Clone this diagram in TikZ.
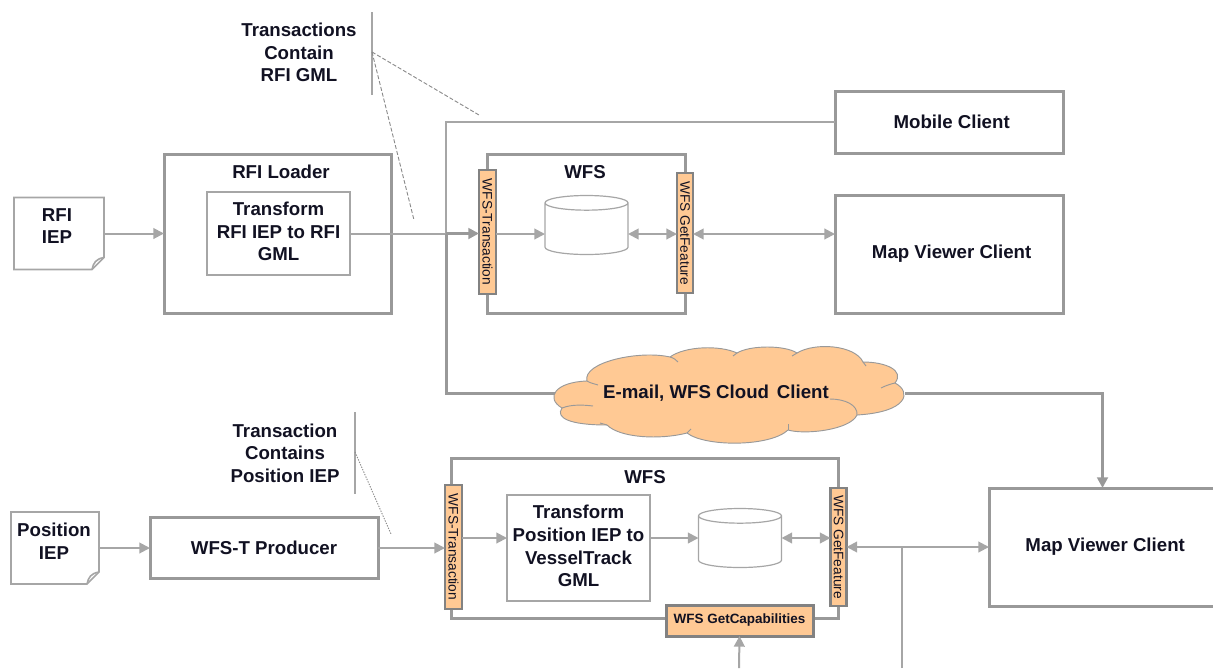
\documentclass[tikz,border=0pt]{standalone}
\usepackage{fontspec}
\setmainfont{Liberation Sans}
\usetikzlibrary{arrows.meta, positioning}
\definecolor{linegray}{HTML}{A6A6A6}
\definecolor{framegray}{HTML}{999999}
\definecolor{barorange}{HTML}{FFC994}
\definecolor{inkblack}{HTML}{111122}
\tikzset{
  >={Triangle[length=8pt,width=8pt]},
  plain/.style={align=center, text=inkblack, inner sep=0pt, outer sep=0pt,
    font=\fontsize{14}{16.9}\selectfont\bfseries},
  frame/.style={draw=framegray, line width=2.25pt, outer sep=0pt, plain},
  inbox/.style={draw=linegray, line width=1pt, outer sep=0pt, plain, text depth=3pt},
  bar/.style={draw=framegray!85!black, fill=barorange, line width=2pt, outer sep=0pt,
    rotate=-90, text=inkblack, inner sep=0pt, font=\fontsize{10.3}{12}\selectfont},
  capbar/.style={draw=framegray!85!black, fill=barorange, line width=2.25pt, outer sep=0pt,
    text=inkblack, inner sep=0pt, font=\fontsize{10.1}{12}\selectfont\bfseries},
  drumbody/.style={outer sep=0pt, inner sep=0pt, minimum width=62.25pt, minimum height=44.25pt},
  drumline/.style={draw=linegray, line width=.9pt, fill=white},
  notepaper/.style={outer sep=0pt, inner sep=0pt},
  noteline/.style={draw=linegray, line width=1.2pt},
  flow/.style={draw=linegray, line width=1.5pt},
  heavyflow/.style={draw=framegray, line width=2.25pt},
  tickline/.style={draw=linegray, line width=1.2pt},
  calldash/.style={draw=gray!90, line width=.7pt, dash pattern=on 3pt off 1.5pt},
  calldot/.style={draw=gray!90, line width=.7pt, dash pattern=on 1pt off 1pt},
  cloudline/.style={draw=gray!80, line width=.7pt},
}
\newcommand{\dogear}[1]{%
  \draw[noteline] (#1.north west) -- (#1.north east) -- ([yshift=9pt]#1.south east)
    -- ([xshift=-9pt]#1.south east) -- (#1.south west) -- cycle;
  \draw[noteline] ([xshift=-9pt]#1.south east) .. controls ([xshift=-8pt,yshift=5pt]#1.south east)
    and ([xshift=-6pt,yshift=8pt]#1.south east) .. ([yshift=9pt]#1.south east);
}
\newcommand{\drumdraw}[1]{%
  \draw[drumline] ([yshift=-5.5pt]#1.north west) -- ([yshift=5.5pt]#1.south west)
    arc[start angle=180, end angle=360, x radius=31.125pt, y radius=5.5pt]
    -- ([yshift=-5.5pt]#1.north east)
    arc[start angle=0, end angle=360, x radius=31.125pt, y radius=5.5pt];
}

\begin{document}
\begin{tikzpicture}[x=0.75pt, y=-0.75pt]
  \useasboundingbox (0,0) rectangle (1213,668);

  % START: Upper row ---------------------------------
  \node[notepaper, minimum width=67.5pt, minimum height=54pt] (rfiiep) at (59,233.5) {};
  \dogear{rfiiep}
  \node[plain] (rfiieptext) at (57,226) {RFI\\IEP};
  \node[frame, minimum width=170.25pt, minimum height=119.25pt, right=45pt of rfiiep] (loader) {};
  \node[plain] (loadertitle) at (281,172) {RFI Loader};
  \node[inbox, minimum width=107.25pt, minimum height=62.25pt] (xformrfi) at (278.5,233.5)
    {Transform\\RFI IEP to RFI\\GML};
  \node[frame, minimum width=148.5pt, minimum height=119.25pt, right=72pt of loader] (wfsup) {};
  \node[plain] (wfsuptitle) at (585,172) {WFS};
  \node[bar, minimum width=93pt, minimum height=12.75pt] (wtup) at (487.5,232) {WFS-Transaction};
  \node[bar, minimum width=90pt, minimum height=12pt] (gfup) at (685,233) {WFS GetFeature};
  \node[drumbody] (drumup) at (586.5,225) {};
  \drumdraw{drumup}
  \node[frame, minimum width=171pt, minimum height=88.5pt, right=112.5pt of wfsup, yshift=-15.375pt] (mapup)
    {\hspace*{4pt}Map Viewer Client};
  \node[frame, minimum width=171pt, minimum height=46.5pt, above=31.5pt of mapup] (mobile)
    {\hspace*{4pt}Mobile Client};
  \coordinate (upmid) at (520,234);
  % END: Upper row -----------------------------------

  % START: Callouts ----------------------------------
  \node[plain] (rfinote) at (299,52.5) {Transactions\\Contain\\RFI GML};
  \coordinate (rfitick) at (372,12);
  \coordinate (rfitickend) at (372,95);
  \coordinate (rfifoot) at (372,52);
  \coordinate (rfihitone) at (479,115);
  \coordinate (rfihittwo) at (414,220);
  \node[plain] (posnote) at (285,453) {Transaction\\Contains\\Position IEP};
  \coordinate (postick) at (355,412);
  \coordinate (postickend) at (355,494);
  \coordinate (posfoot) at (355,452);
  \coordinate (poshit) at (391,534);
  % END: Callouts ------------------------------------

  % START: Cloud -------------------------------------
  \draw[cloudline, fill=barorange] (562,408)
    .. controls (545,398) and (555,382) .. (587,381)
    .. controls (582,362) and (640,350) .. (670,357)
    .. controls (685,346) and (720,345) .. (737,353)
    .. controls (750,345) and (785,345) .. (797,353)
    .. controls (815,342) and (855,345) .. (863,362)
    .. controls (885,362) and (905,370) .. (895,383)
    .. controls (912,392) and (908,412) .. (857,415)
    .. controls (850,430) and (805,435) .. (788,430)
    .. controls (770,447) and (705,447) .. (687,433)
    .. controls (660,440) and (620,438) .. (607,425)
    .. controls (570,425) and (555,418) .. (562,408) -- cycle;
  \draw[cloudline] (562,408) .. controls (572,404) and (585,405) .. (593,406);
  \draw[cloudline] (587,381) .. controls (590,383) and (595,384) .. (598,385);
  \draw[cloudline] (670,357) .. controls (674,358) and (676,360) .. (678,362);
  \draw[cloudline] (737,353) -- (733,356);
  \draw[cloudline] (797,353) -- (792,356);
  \draw[cloudline] (863,362) -- (866,366);
  \draw[cloudline] (895,383) .. controls (890,384) and (885,386) .. (881,388);
  \draw[cloudline] (857,415) .. controls (858,405) and (845,399) .. (830,399);
  \draw[cloudline] (788,430) -- (788,424);
  \draw[cloudline] (687,433) -- (691,429);
  \draw[cloudline] (607,425) -- (600,423);
  \node[plain, minimum width=262.5pt, minimum height=70.5pt] (cloudmail) at (730,393)
    {E-mail, WFS Cloud\hspace{2pt} Client\hspace*{21pt}};
  % END: Cloud ---------------------------------------

  % START: Lower row ---------------------------------
  \node[notepaper, minimum width=66pt, minimum height=54pt] (posiep) at (55,548) {};
  \dogear{posiep}
  \node[plain] (posieptext) at (54,541) {Position\\IEP};
  \node[frame, minimum width=171pt, minimum height=45.75pt, right=38.25pt of posiep] (producer)
    {WFS-T Producer};
  \node[frame, minimum width=290.25pt, minimum height=120pt] (wfslow) at (644.5,538) {};
  \node[plain] (wfslowtitle) at (645,477) {WFS};
  \node[bar, minimum width=93pt, minimum height=12.75pt] (wtlow) at (453.5,547) {WFS-Transaction};
  \node[bar, minimum width=88.5pt, minimum height=12pt] (gflow) at (838.5,547) {WFS GetFeature};
  \node[inbox, minimum width=107.25pt, minimum height=79.5pt] (xformpos) at (578.5,548)
    {Transform\\Position IEP to\\VesselTrack\\GML};
  \node[drumbody] (drumlow) at (740,538) {};
  \drumdraw{drumlow}
  \node[capbar, minimum width=110.25pt, minimum height=23.25pt] (caps) at (739.5,620.5) {WFS GetCapabilities};
  \node[frame, minimum width=170.25pt, minimum height=88.5pt] (mapdown) at (1102.5,547)
    {\hspace*{4pt}Map Viewer Client};
  \coordinate (capin) at (739,668);
  \coordinate (tapend) at (902,668);
  \coordinate (lowmid) at (600,538);
  % END: Lower row -----------------------------------

  % START: Connectors --------------------------------
  \draw[tickline] (rfitick) -- (rfitickend);
  \draw[calldash] (rfifoot) -- (rfihitone);
  \draw[calldash] (rfifoot) -- (rfihittwo);
  \draw[tickline] (postick) -- (postickend);
  \draw[calldot] (posfoot) -- (poshit);

  \coordinate (junction) at (446,233.5);
  \draw[flow, ->] (rfiiep.east) -- (loader.west);
  \draw[flow] (xformrfi.east) -- (junction);
  \draw[flow] (mobile.west) -| (junction);
  \draw[heavyflow] (junction) |- (cloudmail.west);
  \draw[heavyflow, ->] (junction) -- (junction -| wtup.south);
  \draw[flow, ->] (wtup.north |- upmid) -- (drumup.west |- upmid);
  \draw[flow, <->] (drumup.east |- upmid) -- (gfup.south |- upmid);
  \draw[flow, <->] (gfup.north |- upmid) -- (mapup.west |- upmid);
  \draw[heavyflow, ->] (cloudmail.east) -| (mapdown.north);

  \draw[flow, ->] (posiep.east) -- (producer.west);
  \draw[flow, ->] (producer.east) -- (producer.east -| wtlow.south);
  \draw[flow, ->] (wtlow.north |- lowmid) -- (xformpos.west |- lowmid);
  \draw[flow, ->] (xformpos.east |- lowmid) -- (drumlow.west);
  \draw[flow, <->] (drumlow.east) -- (drumlow.east -| gflow.south);
  \draw[flow, <->] (gflow.north |- mapdown.west) -- (mapdown.west);
  \draw[flow] (tapend) -- (tapend |- mapdown.west);
  \draw[flow, ->] (capin) -- (caps.south);
  % END: Connectors ----------------------------------
\end{tikzpicture}
\end{document}
